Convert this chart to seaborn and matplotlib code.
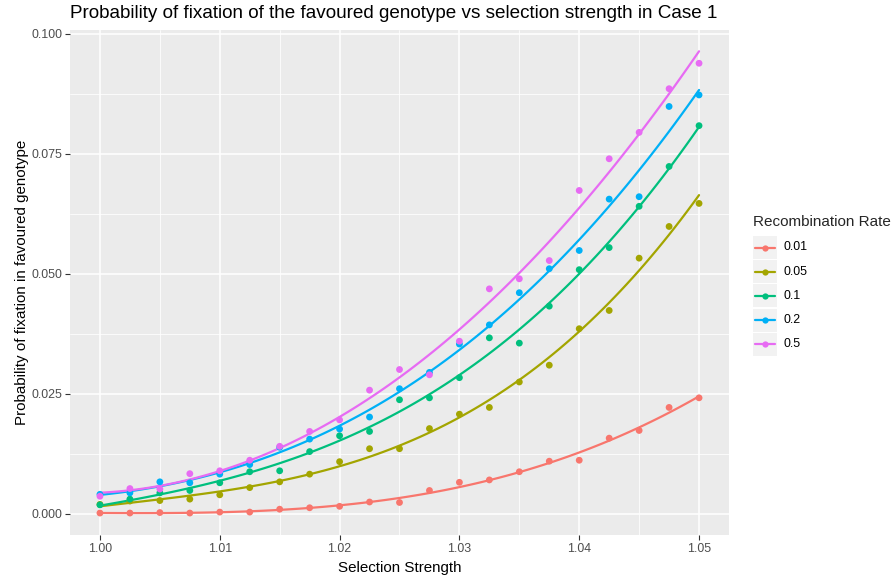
import numpy as np
import pandas as pd
import matplotlib
matplotlib.use("Agg")
import matplotlib.pyplot as plt
from matplotlib.patches import Rectangle
from matplotlib.lines import Line2D
import seaborn as sns

# ---- data ----
selection = [1.0000, 1.0025, 1.0050, 1.0075, 1.0100, 1.0125, 1.0150, 1.0175, 1.0200, 1.0225,
             1.0250, 1.0275, 1.0300, 1.0325, 1.0350, 1.0375, 1.0400, 1.0425, 1.0450, 1.0475, 1.0500]
rates = ["0.01", "0.05", "0.1", "0.2", "0.5"]
p_001 = [0.0002, 0.0002, 0.0003, 0.0002, 0.0004, 0.0004, 0.0010, 0.0013, 0.0016, 0.0025, 0.0024,
         0.0049, 0.0066, 0.0071, 0.0088, 0.0110, 0.0112, 0.0158, 0.0174, 0.0222, 0.0242]
p_005 = [0.0020, 0.0027, 0.0028, 0.0031, 0.0040, 0.0055, 0.0067, 0.0083, 0.0109, 0.0136, 0.0136,
         0.0178, 0.0208, 0.0222, 0.0275, 0.0310, 0.0386, 0.0424, 0.0533, 0.0599, 0.0647]
p_01 = [0.0019, 0.0031, 0.0044, 0.0049, 0.0065, 0.0088, 0.0090, 0.0130, 0.0163, 0.0172, 0.0238,
        0.0242, 0.0284, 0.0367, 0.0356, 0.0433, 0.0509, 0.0555, 0.0641, 0.0724, 0.0809]
p_02 = [0.0041, 0.0044, 0.0067, 0.0065, 0.0083, 0.0103, 0.0139, 0.0156, 0.0177, 0.0202, 0.0261,
        0.0295, 0.0354, 0.0394, 0.0461, 0.0511, 0.0549, 0.0656, 0.0661, 0.0849, 0.0873]
p_05 = [0.0037, 0.0053, 0.0052, 0.0084, 0.0090, 0.0112, 0.0141, 0.0172, 0.0196, 0.0258, 0.0301,
        0.0290, 0.0360, 0.0469, 0.0490, 0.0528, 0.0674, 0.0740, 0.0795, 0.0886, 0.0939]
x_ticks = [1.00, 1.01, 1.02, 1.03, 1.04, 1.05]
x_tick_labels = ["1.00", "1.01", "1.02", "1.03", "1.04", "1.05"]
y_ticks = [0.000, 0.025, 0.050, 0.075, 0.100]
y_tick_labels = ["0.000", "0.025", "0.050", "0.075", "0.100"]
colors = ["#F8766D", "#A3A500", "#00BF7D", "#00B0F6", "#E76BF3"]

series = [p_001, p_005, p_01, p_02, p_05]
df = pd.concat([pd.DataFrame({"Selection Strength": selection, "p": s, "Recombination Rate": r})
                for s, r in zip(series, rates)], ignore_index=True)

sns.set_theme(style="darkgrid")
plt.rcParams["font.family"] = ["Liberation Sans", "DejaVu Sans"]

W, H = 894, 580
fig = plt.figure(figsize=(W / 100, H / 100), dpi=100)
pl, pr, pt, pb = 70, 729, 30, 535
ax = fig.add_axes([pl / W, 1 - pb / H, (pr - pl) / W, (pb - pt) / H])
ax.set_facecolor("#EBEBEB")

for r, c in zip(rates, colors):
    sub = df[df["Recombination Rate"] == r]
    sns.regplot(data=sub, x="Selection Strength", y="p", order=3, ci=None, scatter=False,
                color=c, line_kws={"lw": 1.6}, truncate=True, ax=ax)
sns.scatterplot(data=df, x="Selection Strength", y="p", hue="Recombination Rate",
                palette=colors, hue_order=rates, s=24, edgecolor="none", legend=False,
                ax=ax, zorder=4)

ax.set_xlim(0.9975, 1.0525)
ax.set_ylim(-0.004375, 0.10083)
ax.set_xticks(x_ticks)
ax.set_xticklabels(x_tick_labels)
ax.set_yticks(y_ticks)
ax.set_yticklabels(y_tick_labels)
ax.set_xticks([1.005, 1.015, 1.025, 1.035, 1.045], minor=True)
ax.set_yticks([0.0125, 0.0375, 0.0625, 0.0875], minor=True)
ax.grid(which="major", color="white", lw=1.1)
ax.grid(which="minor", color="white", lw=0.55)
for s in ax.spines.values():
    s.set_visible(False)
ax.tick_params(which="major", length=3.5, width=0.8, color="#333333", labelcolor="#4D4D4D",
               labelsize=8.9, pad=2, bottom=True, left=True)
ax.tick_params(which="minor", length=0, bottom=False, left=False)

ax.set_xlabel("Selection Strength", fontsize=10.9, color="black")
ax.set_ylabel("Probability of fixation in favoured genotype", fontsize=10.9, color="black")
ax.xaxis.label.set_va("center")
ax.yaxis.label.set_va("center")
ax.xaxis.set_label_coords(0.5, (pb - 568) / (pb - pt))
ax.yaxis.set_label_coords((22 - pl) / (pr - pl), 0.5)

fig.text(70 / W, 1 - 14 / H, "Probability of fixation of the favoured genotype vs selection strength in Case 1",
         ha="left", va="center", fontsize=13.6, color="black")

# legend drawn in figure pixels
fig.text(753 / W, 1 - 222 / H, "Recombination Rate", ha="left", va="center", fontsize=11)
for i, (r, c) in enumerate(zip(rates, colors)):
    y0 = 236 + 24.2 * i
    fig.patches.append(Rectangle((753 / W, 1 - (y0 + 23) / H), 24 / W, 23 / H,
                                 transform=fig.transFigure, facecolor="#F2F2F2", edgecolor="none"))
    yc = 1 - (y0 + 11.5) / H
    fig.lines.append(Line2D([755 / W, 775 / W], [yc, yc], transform=fig.transFigure, color=c, lw=1.6))
    fig.lines.append(Line2D([765 / W], [yc], transform=fig.transFigure, color=c, marker="o",
                            markersize=4.5, markeredgewidth=0))
    fig.text(784 / W, yc, r, ha="left", va="center", fontsize=8.9, color="black")

fig.savefig("out.png", dpi=100, facecolor="white")
